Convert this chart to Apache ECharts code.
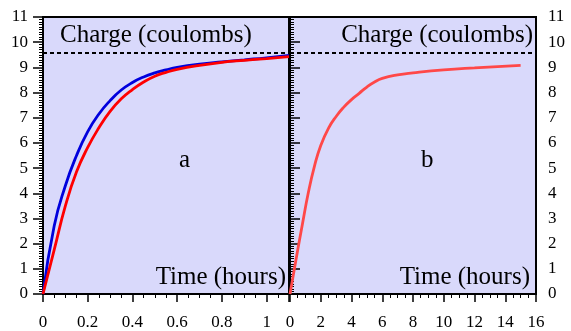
<!DOCTYPE html>
<html>
<head>
<meta charset="utf-8">
<script src="https://cdn.jsdelivr.net/npm/echarts@6/dist/echarts.min.js"></script>
<style>html,body{margin:0;padding:0;background:#fff}#c{width:571px;height:331px}</style>
</head>
<body>
<div id="c"></div>
<script>
// Panel a: blue curve
var tBlue = [0, 0.05, 0.1, 0.15, 0.2, 0.25, 0.3, 0.35, 0.4, 0.45, 0.5, 0.55, 0.6, 0.7, 0.8, 0.9, 1.0, 1.1];
var qBlue = [0, 2.7, 4.3, 5.5, 6.45, 7.15, 7.68, 8.1, 8.4, 8.62, 8.78, 8.9, 9.0, 9.13, 9.22, 9.3, 9.38, 9.48];
// Panel a: red curve
var tRed = [0, 0.05, 0.1, 0.15, 0.2, 0.25, 0.3, 0.35, 0.4, 0.45, 0.5, 0.55, 0.6, 0.7, 0.8, 0.9, 1.0, 1.1];
var qRed = [0, 1.75, 3.5, 4.85, 5.82, 6.6, 7.25, 7.75, 8.12, 8.42, 8.65, 8.8, 8.92, 9.08, 9.2, 9.28, 9.35, 9.43];
// Panel b: red curve
var tB = [0, 0.4, 0.8, 1.2, 1.6, 2.0, 2.5, 3.0, 3.5, 4.0, 4.5, 5.0, 5.5, 6.0, 7.0, 8.0, 10.0, 12.0, 15.0];
var qB = [0, 1.4, 2.75, 4.05, 5.1, 5.9, 6.58, 7.05, 7.42, 7.72, 7.97, 8.22, 8.42, 8.56, 8.7, 8.78, 8.9, 8.98, 9.08];
// Reference level
var qMax = 9.6;
// Tick labels
var xTicksA = [0, 0.2, 0.4, 0.6, 0.8, 1];
var xTicksB = [0, 2, 4, 6, 8, 10, 12, 14, 16];

function pairs(t, q) { return t.map(function (v, i) { return [v, q[i]]; }); }

var FONT = "'Liberation Serif', 'Times New Roman', serif";
var chart = echarts.init(document.getElementById('c'), null, {renderer: 'canvas'});

function yAxisCfg(idx, pos) {
  return {
    type: 'value', gridIndex: idx, position: pos, min: 0, max: 11, interval: 1,
    axisLine: {show: true, lineStyle: {color: '#000', width: 2}},
    axisTick: {show: true, inside: false, length: 10, lineStyle: {color: '#000', width: 1.5}},
    minorTick: {show: true, splitNumber: 10, length: 4, lineStyle: {color: '#000', width: 1}},
    axisLabel: {color: '#000', fontFamily: FONT, fontSize: 17, margin: pos === 'left' ? 15 : 12},
    splitLine: {show: false}
  };
}
function xAxisCfg(idx, max, interval, ticks) {
  return {
    type: 'value', gridIndex: idx, min: 0, max: max, interval: interval,
    axisLine: {show: true, onZero: false, lineStyle: {color: '#000', width: 2}},
    axisTick: {show: true, inside: false, length: 8, lineStyle: {color: '#000', width: 1.5}},
    minorTick: {show: true, splitNumber: 4, length: 4, lineStyle: {color: '#000', width: 1}},
    axisLabel: {color: '#000', fontFamily: FONT, fontSize: 17, margin: 20, showMaxLabel: true,
      formatter: function (v) {
        for (var i = 0; i < ticks.length; i++) if (Math.abs(ticks[i] - v) < 1e-6) return String(ticks[i]);
        return '';
      }},
    splitLine: {show: false}
  };
}
var dash = {
  silent: true, symbol: 'none', label: {show: false},
  lineStyle: {color: '#000', width: 2, type: [4, 3]},
  data: [{yAxis: qMax}]
};

chart.setOption({
  animation: false,
  backgroundColor: '#fff',
  grid: [
    {left: 43, top: 17, width: 246, height: 283, show: true, backgroundColor: '#d9d9fb', borderColor: '#000', borderWidth: 2},
    {left: 290, top: 17, width: 246, height: 283, show: true, backgroundColor: '#d9d9fb', borderColor: '#000', borderWidth: 2}
  ],
  xAxis: [xAxisCfg(0, 1.1, 0.2, xTicksA), xAxisCfg(1, 16, 2, xTicksB)],
  yAxis: [yAxisCfg(0, 'left'), yAxisCfg(1, 'right')],
  series: [
    {type: 'line', xAxisIndex: 0, yAxisIndex: 0, data: pairs(tBlue, qBlue), smooth: 0.5, symbol: 'none',
      lineStyle: {color: '#0000dd', width: 2.8}, z: 3, markLine: dash},
    {type: 'line', xAxisIndex: 0, yAxisIndex: 0, data: pairs(tRed, qRed), smooth: 0.5, symbol: 'none',
      lineStyle: {color: '#ff0000', width: 2.8}, z: 4},
    {type: 'line', xAxisIndex: 1, yAxisIndex: 1, data: pairs(tB, qB), smooth: 0.5, symbol: 'none',
      lineStyle: {color: '#ff4848', width: 2.8}, z: 3, markLine: dash}
  ],
  graphic: [
    {type: 'text', left: 60, top: 23, z: 10, style: {text: 'Charge (coulombs)', font: '25px ' + FONT, fill: '#000'}},
    {type: 'text', right: 38, top: 23, z: 10, style: {text: 'Charge (coulombs)', font: '25px ' + FONT, fill: '#000'}},
    {type: 'text', right: 285, top: 265, z: 10, style: {text: 'Time (hours)', font: '25px ' + FONT, fill: '#000'}},
    {type: 'text', right: 41, top: 265, z: 10, style: {text: 'Time (hours)', font: '25px ' + FONT, fill: '#000'}},
    {type: 'text', left: 179, top: 148, z: 10, style: {text: 'a', font: '25px ' + FONT, fill: '#000'}},
    {type: 'text', left: 421, top: 148, z: 10, style: {text: 'b', font: '25px ' + FONT, fill: '#000'}}
  ]
});
</script>
</body>
</html>
